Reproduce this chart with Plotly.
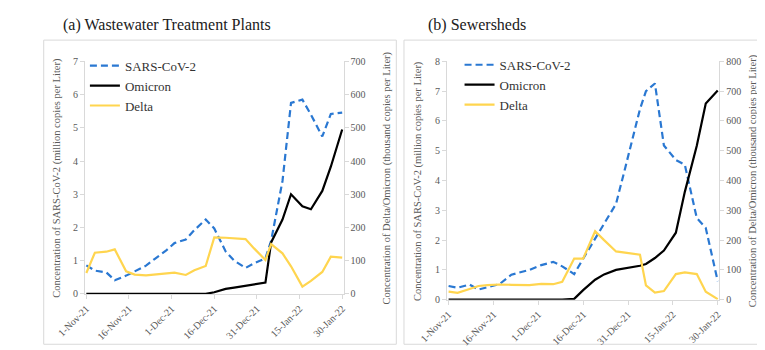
import plotly.graph_objects as go

# ---------------- data ----------------
dates_a = ["2021-11-01", "2021-11-04", "2021-11-08", "2021-11-11", "2021-11-15", "2021-11-18",
           "2021-11-22", "2021-11-25", "2021-11-29", "2021-12-02", "2021-12-06", "2021-12-09",
           "2021-12-13", "2021-12-16", "2021-12-20", "2021-12-23", "2021-12-27", "2021-12-30",
           "2022-01-03", "2022-01-05", "2022-01-09", "2022-01-12", "2022-01-16", "2022-01-19",
           "2022-01-23", "2022-01-26", "2022-01-30"]
sars_a = [0.86, 0.70, 0.65, 0.41, 0.55, 0.68, 0.85, 1.05, 1.30, 1.53, 1.64, 1.92, 2.24, 1.97,
          1.28, 1.00, 0.78, 0.92, 1.07, 1.60, 3.40, 5.75, 5.85, 5.40, 4.74, 5.42, 5.46]
omicron_a = [0, 0, 0, 0, 0, 0, 0, 0, 0, 0, 0, 0, 0, 5, 15, 19, 24, 29, 34, 155, 224, 300, 264,
             255, 310, 383, 495]
delta_a = [63, 124, 127, 134, 68, 58, 56, 59, 62, 64, 57, 71, 84, 170, 169, 167, 165, 137, 102,
           150, 122, 83, 22, 39, 66, 112, 109]

dates_b = ["2021-11-01", "2021-11-04", "2021-11-08", "2021-11-11", "2021-11-14", "2021-11-18",
           "2021-11-22", "2021-11-25", "2021-11-28", "2021-12-02", "2021-12-06", "2021-12-09",
           "2021-12-13", "2021-12-16", "2021-12-20", "2021-12-23", "2021-12-27", "2021-12-30",
           "2022-01-04", "2022-01-06", "2022-01-09", "2022-01-12", "2022-01-16", "2022-01-19",
           "2022-01-23", "2022-01-26", "2022-01-30"]
sars_b = [0.46, 0.40, 0.51, 0.34, 0.42, 0.52, 0.84, 0.92, 1.00, 1.16, 1.27, 1.12, 0.86, 1.38,
          2.05, 2.55, 3.22, 4.40, 6.40, 7.00, 7.26, 5.18, 4.69, 4.53, 2.74, 2.41, 0.62]
omicron_b = [0, 0, 0, 0, 0, 0, 0, 0, 0, 0, 0, 0, 3, 32, 67, 85, 100, 105, 114, 120, 140, 165,
             225, 362, 517, 659, 702]
delta_b = [27, 23, 36, 46, 49, 51, 50, 49, 49, 53, 52, 60, 138, 138, 230, 200, 162, 158, 151,
           48, 24, 29, 86, 92, 86, 27, 2]

tick_dates = ["2021-11-01", "2021-11-16", "2021-12-01", "2021-12-16", "2021-12-31",
              "2022-01-15", "2022-01-30"]
tick_text = ["1-Nov-21", "16-Nov-21", "1-Dec-21", "16-Dec-21", "31-Dec-21", "15-Jan-22", "30-Jan-22"]

series_names = ["SARS-CoV-2", "Omicron", "Delta"]
panel_titles = ["(a) Wastewater Treatment Plants", "(b) Sewersheds"]
left_title = "Concentration of SARS-CoV-2 (million copies per Liter)"
right_title = "Concentration of Delta/Omicron (thousand copies per Liter)"

# ---------------- style ----------------
W, H = 765, 350
BLUE = "#2A78D2"
GOLD = "#FFD54F"
AX = "#D9D9D9"
TXT = "#595959"
SERIF = "Liberation Serif"

def px(x):
    return x / W

def py(y):
    return 1 - y / H

fig = go.Figure()

# panel a
fig.add_trace(go.Scatter(x=dates_a, y=sars_a, name=series_names[0], mode="lines",
                         line=dict(color=BLUE, width=2.2, dash="7px,4px"),
                         xaxis="x", yaxis="y", legend="legend"))
fig.add_trace(go.Scatter(x=dates_a, y=omicron_a, name=series_names[1], mode="lines",
                         line=dict(color="black", width=2.2),
                         xaxis="x", yaxis="y2", legend="legend"))
fig.add_trace(go.Scatter(x=dates_a, y=delta_a, name=series_names[2], mode="lines",
                         line=dict(color=GOLD, width=2.2),
                         xaxis="x", yaxis="y2", legend="legend"))
# panel b
fig.add_trace(go.Scatter(x=dates_b, y=sars_b, name=series_names[0], mode="lines",
                         line=dict(color=BLUE, width=2.2, dash="7px,4px"),
                         xaxis="x2", yaxis="y3", legend="legend2"))
fig.add_trace(go.Scatter(x=dates_b, y=omicron_b, name=series_names[1], mode="lines",
                         line=dict(color="black", width=2.2),
                         xaxis="x2", yaxis="y4", legend="legend2"))
fig.add_trace(go.Scatter(x=dates_b, y=delta_b, name=series_names[2], mode="lines",
                         line=dict(color=GOLD, width=2.2),
                         xaxis="x2", yaxis="y4", legend="legend2"))

xrange_ = ["2021-10-31 12:00", "2022-01-30 12:00"]

def tickfont():
    return dict(family=SERIF, size=10, color=TXT)

def xaxis(domain, anchor):
    return dict(domain=domain, anchor=anchor, range=xrange_, type="date",
                tickvals=tick_dates, ticktext=tick_text, tickangle=-45,
                showline=True, linecolor=AX, linewidth=1, ticks="outside",
                ticklen=4, tickcolor=AX, showgrid=False, zeroline=False,
                tickfont=tickfont(), fixedrange=True)

def yaxis(domain, anchor, rng, dtick, side="left", overlaying=None):
    d = dict(domain=domain, anchor=anchor, range=rng, dtick=dtick, side=side,
             showline=True, linecolor=AX, linewidth=1, ticks="outside", ticklen=4,
             tickcolor=AX, showgrid=False, zeroline=False, tickfont=tickfont(),
             fixedrange=True)
    if overlaying:
        d["overlaying"] = overlaying
    return d

dom_ax = [px(50), px(320)]
dom_ay = [py(290), py(50)]
dom_bx = [px(428), px(712)]
dom_by = [py(296), py(50)]

legend_font = dict(family=SERIF, size=13, color="#333333")

fig.update_layout(
    width=W, height=H,
    margin=dict(l=0, r=0, t=0, b=0),
    paper_bgcolor="white", plot_bgcolor="white",
    font=dict(family=SERIF),
    xaxis=xaxis(dom_ax, "y"),
    yaxis=yaxis(dom_ay, "x", [0, 7], 1),
    yaxis2=yaxis(dom_ay, "x", [0, 700], 100, side="right", overlaying="y"),
    xaxis2=xaxis(dom_bx, "y3"),
    yaxis3=yaxis(dom_by, "x2", [0, 8], 1),
    yaxis4=yaxis(dom_by, "x2", [0, 800], 100, side="right", overlaying="y3"),
    legend=dict(x=px(50), y=py(39), xanchor="left", yanchor="top",
                bgcolor="rgba(0,0,0,0)", font=legend_font, itemwidth=30,
                tracegroupgap=0),
    legend2=dict(x=px(441), y=py(38), xanchor="left", yanchor="top",
                 bgcolor="rgba(0,0,0,0)", font=legend_font, itemwidth=30,
                 tracegroupgap=0),
    showlegend=True,
)

# panel frames
for x0, x1 in [(7, 375), (383, 757)]:
    fig.add_shape(type="rect", xref="paper", yref="paper",
                  x0=px(x0), x1=px(x1), y0=py(342), y1=py(28),
                  line=dict(color="#D9D9D9", width=1), fillcolor="rgba(0,0,0,0)",
                  layer="below")

# panel titles
for xpos, txt in [(25, panel_titles[0]), (406, panel_titles[1])]:
    fig.add_annotation(x=px(xpos), y=py(12), xref="paper", yref="paper",
                       text=txt, showarrow=False, xanchor="left", yanchor="middle",
                       font=dict(family=SERIF, size=16, color="#202020"))

# axis titles
for xpos, ypos, txt in [(20, 170, left_title), (365, 170, right_title),
                        (397, 173, left_title), (747, 173, right_title)]:
    fig.add_annotation(x=px(xpos), y=py(ypos), xref="paper", yref="paper",
                       text=txt, showarrow=False, textangle=-90,
                       xanchor="center", yanchor="middle",
                       font=dict(family=SERIF, size=10.5, color=TXT))

fig.write_html("out.html")
